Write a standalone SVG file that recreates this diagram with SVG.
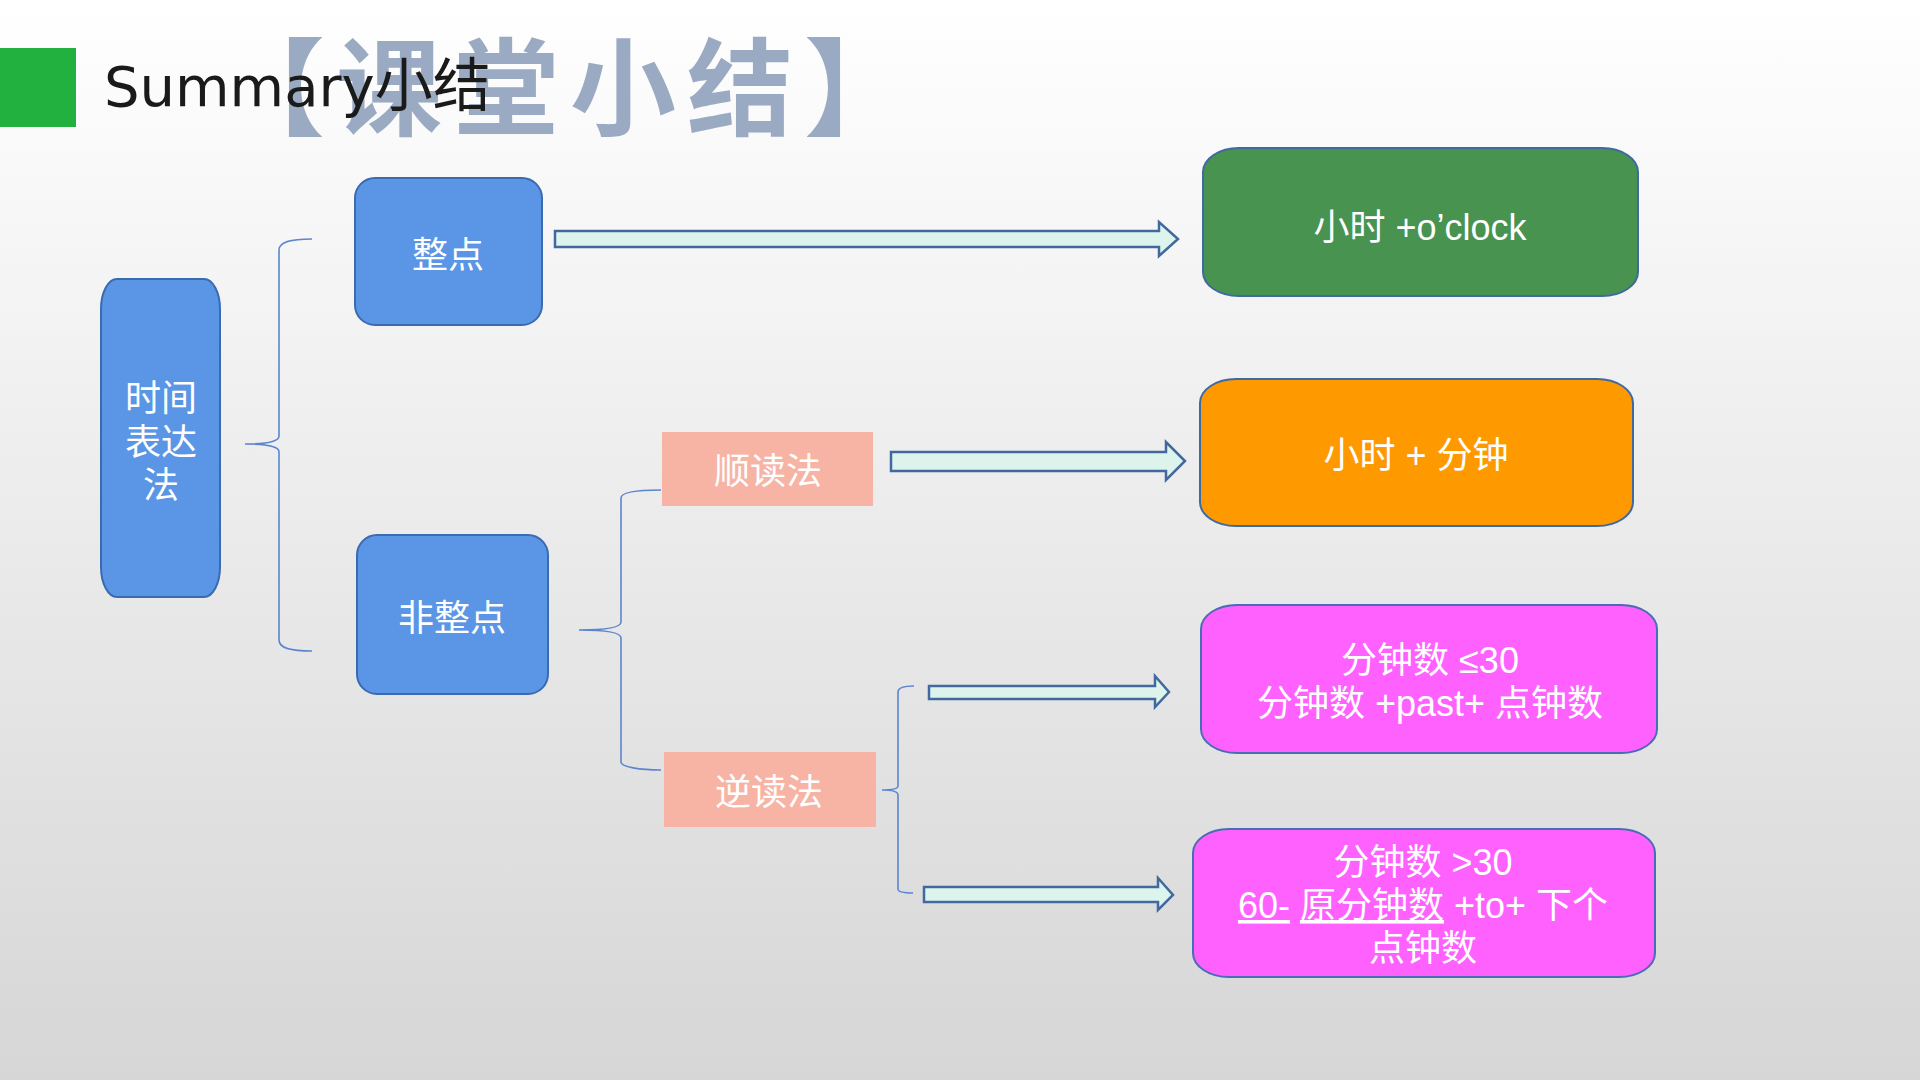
<svg xmlns="http://www.w3.org/2000/svg" width="1920" height="1080" viewBox="0 0 1920 1080">
<defs>
<linearGradient id="bg" x1="0" y1="0" x2="0" y2="1">
<stop offset="0" stop-color="#ffffff"/>
<stop offset="1" stop-color="#d6d6d6"/>
</linearGradient>
<style>
.t{font-family:"Liberation Sans","Noto Sans CJK SC",sans-serif;font-size:36px;fill:#ffffff;text-anchor:middle}
.blue{fill:#5B95E5;stroke:#3A6BB0;stroke-width:2}
.salmon{fill:#F7B4A5}
.arrow{fill:#DDF4EC;stroke:#41689F;stroke-width:2.5;stroke-linejoin:miter}
.brace{fill:none;stroke:#5B86CF;stroke-width:1.6}
.u{text-decoration:underline}
</style>
</defs>
<rect x="0" y="0" width="1920" height="1080" fill="url(#bg)"/>
<g id="header">
<rect x="0" y="48" width="76" height="79" fill="#22B03F"/>
<text x="219" y="127" font-family="Noto Sans CJK SC,sans-serif" font-size="106" font-weight="bold" letter-spacing="11" fill="#9BAAC3">【课堂小结】</text>
<text x="104" y="106" font-family="DejaVu Sans,Noto Sans CJK SC,sans-serif" font-size="56" fill="#1a1a1a">Summary<tspan font-size="58">小结</tspan></text>
</g>
<g id="connectors">
<path class="brace" d="M312,239 C290,239 279,242 279,250 L279,436 C279,441 270,444 245,444 C270,444 279,447 279,452 L279,640 C279,648 290,651 312,651"/>
<path class="brace" d="M661,490 C640,490 621,492 621,498 L621,622 C621,627 610,630 579,630 C610,630 621,633 621,638 L621,762 C621,767 640,770 661,770"/>
<path class="brace" d="M914,686 C903,686 898,688 898,692 L898,786 C898,789 893,790 882,790 C893,790 898,792 898,795 L898,889 C898,892 903,893 913,893"/>
<polygon class="arrow" points="555,231 1159,231 1159,222 1178,239 1159,256 1159,247 555,247"/>
<polygon class="arrow" points="891,452 1166,452 1166,442 1185,461 1166,480 1166,471 891,471"/>
<polygon class="arrow" points="929,686 1155,686 1155,676 1169,692 1155,707 1155,699 929,699"/>
<polygon class="arrow" points="924,887 1158,887 1158,878 1173,895 1158,910 1158,902 924,902"/>
</g>
<g id="node-shijian">
<rect class="blue" x="101" y="279" width="119" height="318" rx="16" ry="30"/>
<text class="t" x="161" y="411">时间</text>
<text class="t" x="161" y="455">表达</text>
<text class="t" x="161" y="498">法</text>
</g>
<g id="node-zhengdian">
<rect class="blue" x="355" y="178" width="187" height="147" rx="20" ry="20"/>
<text class="t" x="448" y="268">整点</text>
</g>
<g id="node-feizhengdian">
<rect class="blue" x="357" y="535" width="191" height="159" rx="20" ry="20"/>
<text class="t" x="452" y="631">非整点</text>
</g>
<g id="node-shundu">
<rect class="salmon" x="662" y="432" width="211" height="74"/>
<text class="t" x="768" y="484">顺读法</text>
</g>
<g id="node-nidu">
<rect class="salmon" x="664" y="752" width="212" height="75"/>
<text class="t" x="769" y="805">逆读法</text>
</g>
<g id="node-oclock">
<rect x="1203" y="148" width="435" height="148" rx="36" ry="24" fill="#47934F" stroke="#3F6A9F" stroke-width="2"/>
<text class="t" x="1420" y="240">小时 +o’clock</text>
</g>
<g id="node-fenzhong">
<rect x="1200" y="379" width="433" height="147" rx="36" ry="24" fill="#FF9900" stroke="#3F6A9F" stroke-width="2"/>
<text class="t" x="1416" y="468">小时 + 分钟</text>
</g>
<g id="node-past">
<rect x="1201" y="605" width="456" height="148" rx="36" ry="24" fill="#FF61FF" stroke="#4A6BB5" stroke-width="2"/>
<text class="t" x="1430" y="673">分钟数 ≤30</text>
<text class="t" x="1430" y="716">分钟数 +past+ 点钟数</text>
</g>
<g id="node-to">
<rect x="1193" y="829" width="462" height="148" rx="36" ry="24" fill="#FF61FF" stroke="#4A6BB5" stroke-width="2"/>
<text class="t" x="1423" y="875">分钟数 &gt;30</text>
<text class="t" x="1423" y="918"><tspan class="u">60-</tspan> <tspan class="u">原分钟数</tspan> +to+ 下个</text>
<text class="t" x="1423" y="961">点钟数</text>
</g>
</svg>
